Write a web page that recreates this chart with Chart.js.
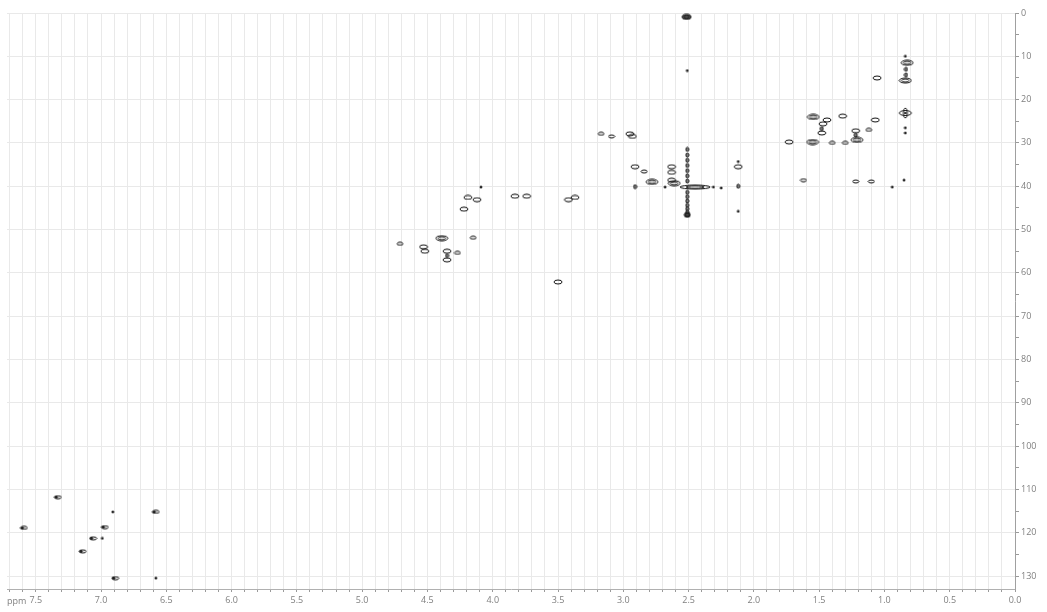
<!DOCTYPE html>
<html>
<head>
<meta charset="utf-8">
<script src="https://cdn.jsdelivr.net/npm/chart.js@4.4.1/dist/chart.umd.min.js"></script>
<style>
  html, body { margin: 0; padding: 0; background: #fff; }
  #wrap { width: 1047px; height: 612px; }
</style>
</head>
<body>
<div id="wrap"><canvas id="hsqc"></canvas></div>
<script>
// cross peaks: 1H shift (ppm), 13C shift (ppm), contour shape
const protonShift = [
  7.59, 7.33, 7.14, 7.06, 6.99, 6.97, 6.91, 6.89, 6.58, 6.58,
  4.71, 4.53, 4.52, 4.39, 4.35, 4.35, 4.35, 4.27, 4.22, 4.19, 4.12, 4.15, 4.09,
  3.83, 3.74, 3.50, 3.42, 3.37,
  3.17, 3.09, 2.95, 2.93, 2.91, 2.91, 2.84, 2.78, 2.68, 2.63, 2.63, 2.63, 2.61,
  2.515, 2.51, 2.45,
  2.51, 2.51, 2.51, 2.51, 2.51, 2.51, 2.51, 2.51, 2.51, 2.51, 2.51, 2.51, 2.51, 2.51,
  2.31, 2.25, 2.12, 2.12, 2.12, 2.12,
  1.73, 1.62, 1.545, 1.55, 1.47, 1.48, 1.48, 1.44, 1.40, 1.32, 1.30,
  1.22, 1.22, 1.21, 1.22, 1.12, 1.10, 1.07, 1.056,
  0.94, 0.85, 0.84, 0.84, 0.84, 0.835, 0.835, 0.826, 0.84, 0.84
];
const carbonShift = [
  118.9, 111.8, 124.3, 121.3, 121.3, 118.7, 115.2, 130.5, 115.2, 130.5,
  53.3, 54.0, 55.0, 52.0, 55.0, 56.0, 57.0, 55.4, 45.3, 42.6, 43.1, 51.9, 40.2,
  42.3, 42.3, 62.1, 43.1, 42.6,
  27.9, 28.5, 27.9, 28.5, 35.5, 40.1, 36.6, 39.0, 40.2, 35.5, 36.8, 38.6, 39.3,
  0.9, 13.3, 40.2,
  31.5, 32.8, 34.0, 35.2, 36.4, 37.6, 38.8, 41.4, 42.4, 43.4, 44.4, 45.2, 46.0, 46.6,
  40.2, 40.4, 35.5, 34.3, 40.0, 45.8,
  29.8, 38.6, 24.0, 29.8, 25.6, 26.7, 27.7, 24.7, 30.0, 23.8, 30.0,
  27.2, 28.2, 29.3, 38.9, 27.0, 38.9, 24.7, 15.0,
  40.2, 38.6, 27.7, 23.1, 15.6, 13.0, 14.3, 11.5, 10.0, 26.5
];
const peakShape = [
  'a', 'a', 'a', 'a', '.', 'a', '.', 'a', 'a', '.',
  's', 'o', 'o', 'O', 'o', 'v', 'o', 's', 'o', 'o', 'o', 's', '.',
  'o', 'o', 'o', 'o', 'o',
  's', 's', 'o', 'o', 'o', 'v', 's', 'O', '.', 'o', 'o', 'o', 'O',
  'B', '.', 'W',
  'v', 'v', 'v', 'v', 'v', 'v', 'v', 'v', 'v', 'v', 'v', 'v', 'v', 'd',
  '.', '.', 'o', '.', 'v', '.',
  'o', 's', 'O', 'O', 'o', 'v', 'o', 'o', 's', 'o', 's',
  'o', 'v', 'O', 's', 's', 's', 'o', 'o',
  '.', '.', '.', 'X', 'O', 'v', 'v', 'O', '.', '.'
];

const xTickValues = [];
for (let i = 0; i <= 77; i++) xTickValues.push(i / 10);
const yTickValues = [];
for (let v = 0; v <= 130; v += 5) yTickValues.push(v);

// contour glyphs drawn once into small canvases
function contour(w, h, rings, fill, darkLeft) {
  const c = document.createElement('canvas');
  c.width = w + 2;
  c.height = h + 2;
  const g = c.getContext('2d');
  const cx = c.width / 2, cy = c.height / 2;
  if (fill) {
    g.fillStyle = fill;
    g.beginPath();
    g.ellipse(cx, cy, w / 2, h / 2, 0, 0, Math.PI * 2);
    g.fill();
  }
  if (darkLeft) {
    g.fillStyle = '#222';
    g.beginPath();
    g.ellipse(cx - w / 4, cy, w / 4, h / 2, 0, 0, Math.PI * 2);
    g.fill();
  }
  g.strokeStyle = '#111';
  g.lineWidth = 1;
  for (let r = 0; r < rings; r++) {
    const k = 1 - r * 0.4;
    g.beginPath();
    g.ellipse(cx, cy, Math.max(w / 2 * k, 0.8), Math.max(h / 2 * k, 0.8), 0, 0, Math.PI * 2);
    g.stroke();
  }
  return c;
}

// four-lobed contour for the methyl cross
function crossContour() {
  const c = document.createElement('canvas');
  c.width = 16;
  c.height = 12;
  const g = c.getContext('2d');
  g.strokeStyle = '#111';
  g.lineWidth = 1;
  g.beginPath();
  g.ellipse(8, 6, 6, 2.5, 0, 0, Math.PI * 2);
  g.stroke();
  g.beginPath();
  g.ellipse(8, 6, 2, 5, 0, 0, Math.PI * 2);
  g.stroke();
  g.fillStyle = '#333';
  g.fillRect(7, 5, 2, 2);
  return c;
}

const glyphs = {
  'o': contour(8, 4, 1),
  'O': contour(12, 5, 2),
  's': contour(6, 3, 1),
  'a': contour(7, 3, 1, null, true),
  '.': contour(2, 2, 1, '#333'),
  'v': contour(3, 4, 1, '#888'),
  'd': contour(6, 5, 2, '#555'),
  'B': contour(9, 5, 2, '#555'),
  'W': contour(30, 4, 2),
  'X': crossContour()
};

const points = protonShift.map((h, i) => ({ x: h, y: carbonShift[i] }));

const ppmLabel = {
  id: 'ppmLabel',
  afterDraw(chart) {
    const ctx = chart.ctx;
    ctx.save();
    ctx.font = '9px "Open Sans"';
    ctx.fillStyle = '#808080';
    ctx.textBaseline = 'middle';
    ctx.textAlign = 'left';
    ctx.fillText('ppm', chart.chartArea.left, chart.chartArea.bottom + 12);
    ctx.restore();
  }
};

new Chart(document.getElementById('hsqc'), {
  type: 'scatter',
  data: {
    datasets: [{
      data: points,
      pointRadius: 3,
      pointStyle: ctx => glyphs[peakShape[ctx.dataIndex]],
      borderWidth: 0
    }]
  },
  options: {
    responsive: true,
    maintainAspectRatio: false,
    animation: false,
    events: [],
    layout: { padding: { left: 7, top: 13, right: 0, bottom: 0 } },
    plugins: {
      legend: { display: false },
      tooltip: { enabled: false }
    },
    scales: {
      x: {
        type: 'linear',
        reverse: true,
        min: 0,
        max: 7.72,
        afterBuildTicks: scale => { scale.ticks = xTickValues.map(v => ({ value: v })); },
        afterFit: scale => { scale.height = 23; },
        border: { color: '#b0b0b0', width: 1 },
        grid: { color: '#e9e9e9', tickColor: '#9a9a9a', tickLength: 3 },
        ticks: {
          autoSkip: false,
          maxRotation: 0,
          padding: 3,
          color: '#808080',
          font: { family: 'Open Sans', size: 9 },
          callback: v => {
            const r = Math.round(v * 10);
            return r % 5 === 0 ? (r / 10).toFixed(1) : '';
          }
        }
      },
      y: {
        type: 'linear',
        position: 'right',
        reverse: true,
        min: 0,
        max: 133,
        afterBuildTicks: scale => { scale.ticks = yTickValues.map(v => ({ value: v })); },
        afterFit: scale => { scale.width = 32; },
        border: { color: '#a0a0a0', width: 1 },
        grid: {
          color: c => (c.tick && c.tick.value % 10 === 0) ? '#e9e9e9' : 'rgba(0,0,0,0)',
          tickColor: '#9a9a9a',
          tickLength: 4
        },
        ticks: {
          autoSkip: false,
          padding: 2,
          color: '#808080',
          font: { family: 'Open Sans', size: 9 },
          callback: v => (v % 10 === 0 ? String(v) : '')
        }
      }
    }
  },
  plugins: [ppmLabel]
});
</script>
</body>
</html>
